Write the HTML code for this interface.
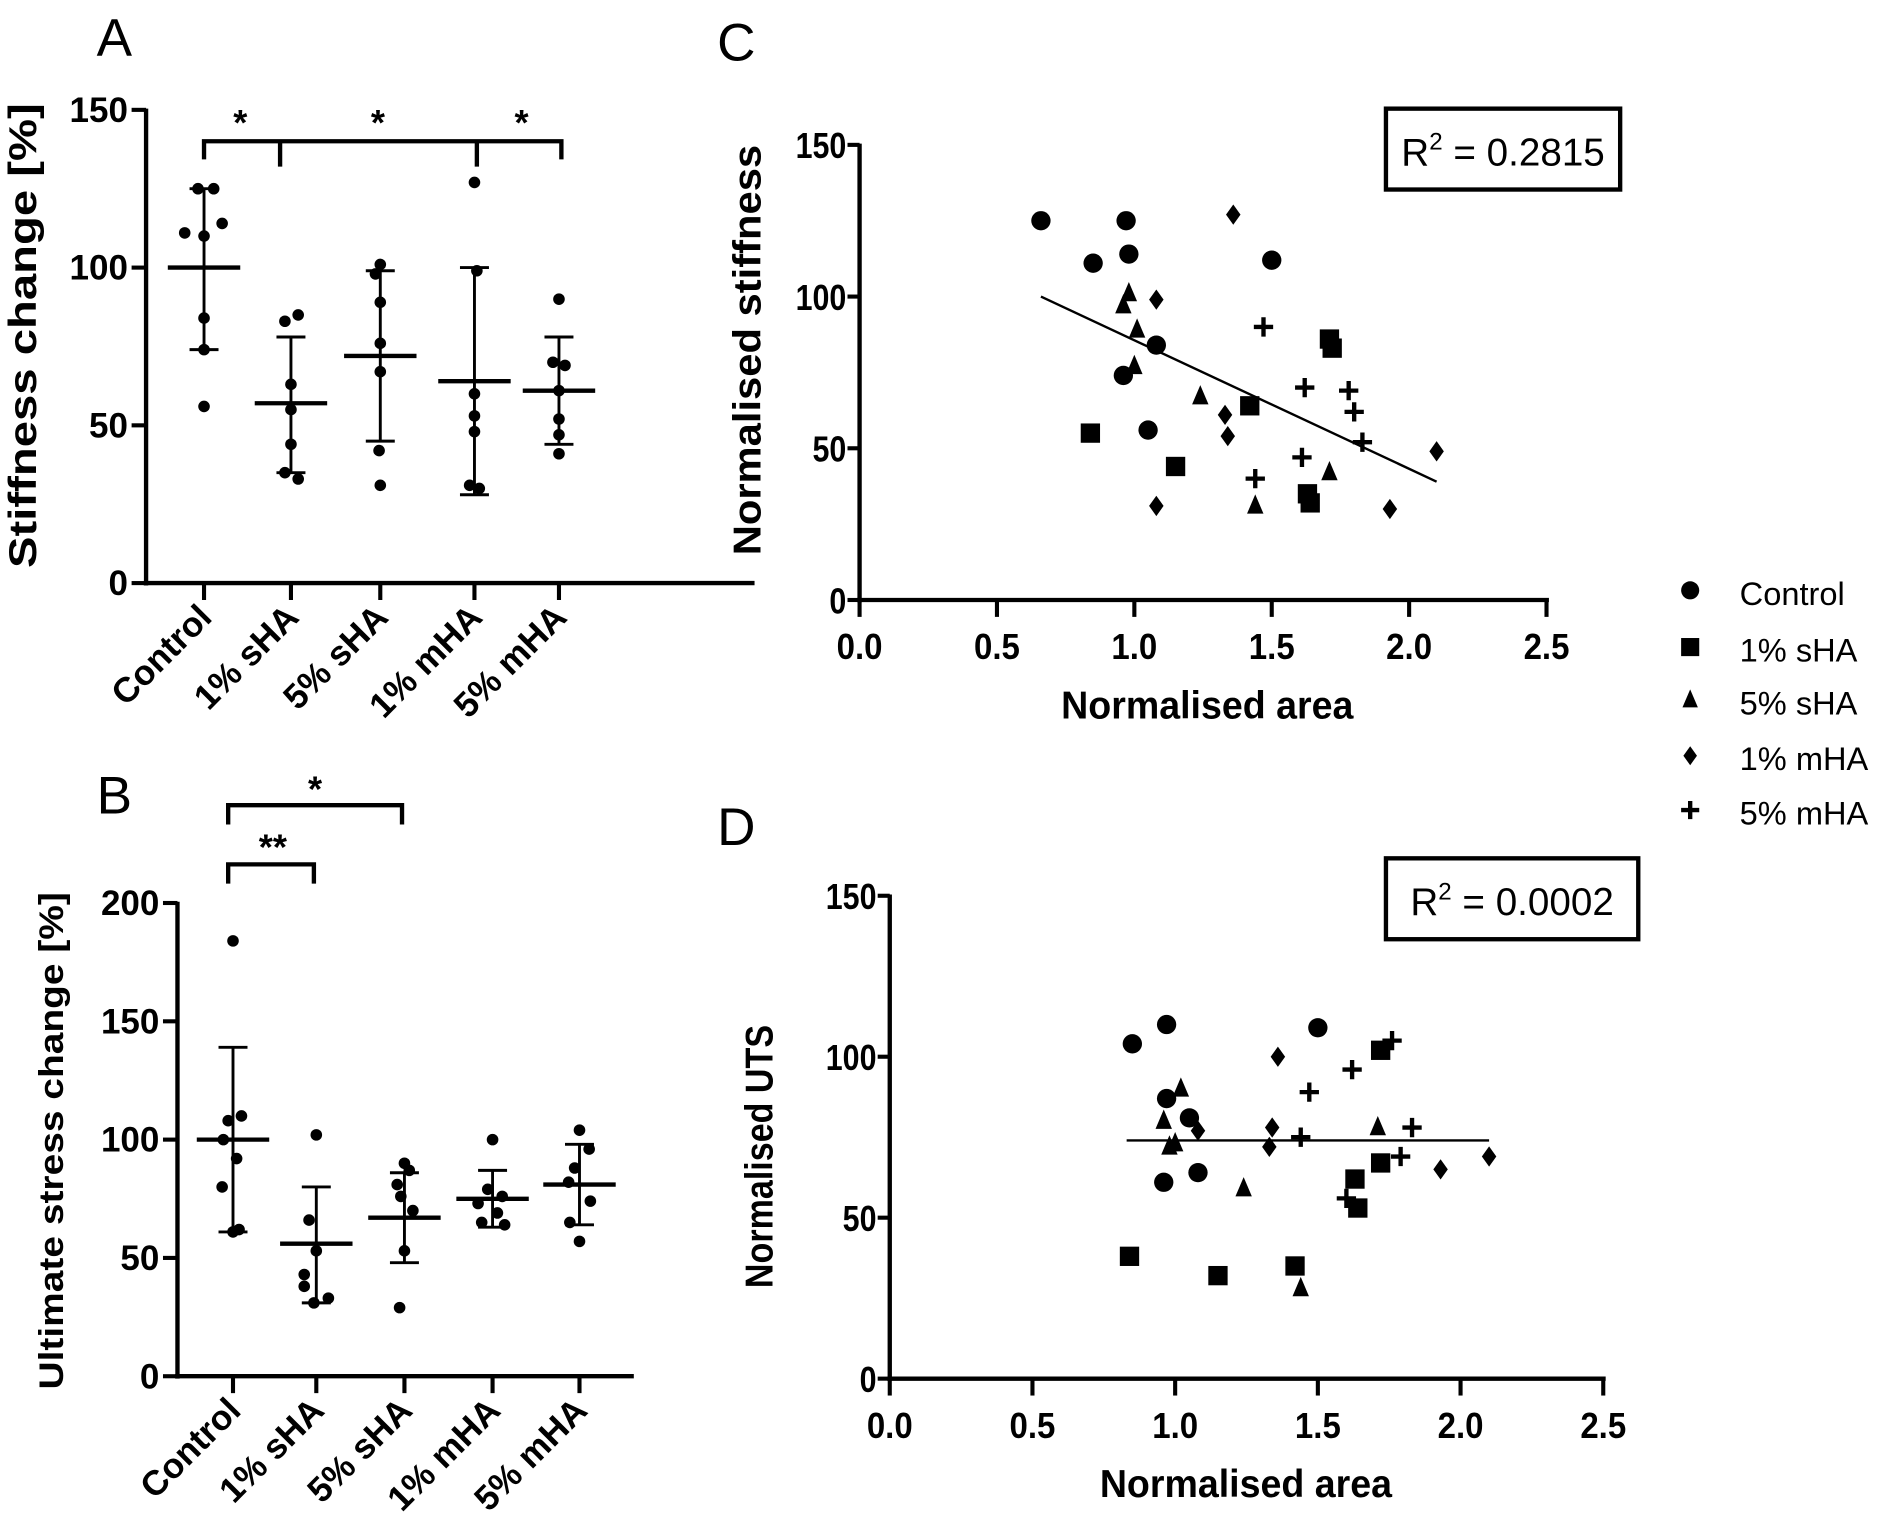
<!DOCTYPE html>
<html><head><meta charset="utf-8"><style>
html,body{margin:0;padding:0;background:#fff}
svg{display:block}
text{font-family:"Liberation Sans",sans-serif;fill:#000}
</style></head><body>
<svg id="fig" width="1893" height="1538" viewBox="0 0 1568 1274" preserveAspectRatio="none" xmlns="http://www.w3.org/2000/svg"></svg>
<script>
// ---------- Data ----------
const groups = ["Control","1% sHA","5% sHA","1% mHA","5% mHA"];
// Panel A: stiffness change
const aMean = [100,57,72,64,61];
const aLo = [74,35,45,28,44];
const aHi = [125,78,99,100,78];
const aPts = [[125,125,111,114,110,84,74,56],[85,83,63,55,44,35,33],[101,98,89,76,67,42,31],[127,99,60,53,48,31,30],[90,70,69,61,52,47,41]];
const aJit = [[-5,8,-16,15,0,0,0,0],[6,-5,0,0,0,-5,6],[0,-4,0,0,0,-1,0],[0,2,0,0,0,-4,4],[0,-5,5,0,0,0,0]];
const aTicks = [0,50,100,150];
// Panel B: ultimate stress change
const bMean = [100,56,67,75,81];
const bLo = [61,31,48,63,64];
const bHi = [139,80,86,87,98];
const bPts = [[184,110,108,100,92,80,62,61],[102,66,53,43,38,33,31],[90,87,81,76,70,53,29],[100,79,76,73,69,65,64],[104,96,88,82,74,65,57]];
const bJit = [[0,7,-4,-8,3,-9,5,0],[0,-6,0,-10,-10,10,-2],[0,4,-6,-3,7,0,-4],[0,-4,8,-12,4,-9,10],[0,8,-4,-9,9,-8,0]];
const bTicks = [0,50,100,150,200];
// Panel C: area vs stiffness
const cX = [[0.66,0.85,0.97,0.98,1.5,1.08,0.96,1.05],[0.84,1.15,1.42,1.71,1.72,1.63,1.64],[0.96,0.98,1.01,1.0,1.24,1.44,1.71],[1.36,1.08,1.33,1.34,1.08,1.93,2.1],[1.47,1.62,1.78,1.8,1.83,1.61,1.44]];
const cY = [[125,111,125,114,112,84,74,56],[55,44,64,86,83,35,32],[97,101,89,77,67,31,42],[127,99,61,54,31,30,49],[90,70,69,62,52,47,40]];
const cFit = [[0.66,100],[2.1,39]];
// Panel D: area vs UTS
const dX = [[0.85,0.97,0.97,1.05,1.5,1.08,0.96],[0.84,1.15,1.42,1.72,1.63,1.64,1.72],[0.96,1.02,0.98,1.0,1.24,1.44,1.71],[1.36,1.34,1.33,1.08,1.93,2.1],[1.76,1.62,1.47,1.44,1.83,1.79,1.6]];
const dY = [[104,110,87,81,109,64,61],[38,32,35,102,62,53,67],[80,90,72,73,59,28,78],[100,78,72,77,65,69],[105,96,89,75,78,69,56]];
const dFit = [[0.83,74],[2.1,74]];
const xTicks = [0,0.5,1,1.5,2,2.5];
const shapes = ["circle","square","triangle","diamond","plus"];

const NS="http://www.w3.org/2000/svg";
const svg=document.getElementById('fig');
function el(tag,attrs,parent,txt){const e=document.createElementNS(NS,tag);for(const k in attrs)e.setAttribute(k,attrs[k]);if(txt!==undefined)e.textContent=txt;(parent||svg).appendChild(e);return e;}
function grp(name){const g=el('g',{});return g;}
function line(g,x1,y1,x2,y2,w){return el('line',{x1,y1,x2,y2,stroke:'#000','stroke-width':w||3.4},g);}
function label(g,x,y,t,opts){return el('text',Object.assign({x,y},opts||{}),g,t);}

function marker(g,shape,x,y,s){
  let m;
  if(shape==='circle') m=el('circle',{cx:x,cy:y,r:s},g);
  else if(shape==='square') m=el('rect',{x:x-s,y:y-s,width:2*s,height:2*s},g);
  else if(shape==='triangle') m=el('polygon',{points:`${x},${y-s*1.2} ${x-s*0.85},${y+s*0.8} ${x+s*0.85},${y+s*0.8}`},g);
  else if(shape==='diamond') m=el('polygon',{points:`${x},${y-s*1.05} ${x+s*0.75},${y} ${x},${y+s*1.05} ${x-s*0.75},${y}`},g);
  else { m=el('path',{d:`M${x-s} ${y}H${x+s}M${x} ${y-s}V${y+s}`,stroke:'#000','stroke-width':3.6,fill:'none'},g); }
  if(shape!=='plus') m.setAttribute('fill','#000');
  return m;
}

// ---------- Dot plot panel ----------
function dotPanel(cfg){
  const g=grp(cfg.name);
  const ys=v=>cfg.y0-v*(cfg.y0-cfg.yTop)/cfg.yMax;
  line(g,cfg.ax,cfg.yTop-1,cfg.ax,cfg.y0+2,3.6);
  line(g,cfg.ax-2,cfg.y0,cfg.xEnd,cfg.y0,3.6);
  cfg.ticks.forEach(t=>{const y=ys(t);line(g,cfg.ax-12,y,cfg.ax,y,3.4);
    const tl=label(g,cfg.ax-15,y+10,String(t),{'text-anchor':'end','font-size':29,'font-weight':'bold'});
    });
  const yt=label(g,0,0,cfg.ytitle,{'text-anchor':'middle','font-size':cfg.yfs,'font-weight':'bold',textLength:cfg.ytl,lengthAdjust:'spacingAndGlyphs',transform:`translate(${cfg.ytx},${cfg.yty}) rotate(-90)`});
  
  groups.forEach((name,i)=>{
    const x=cfg.cx[i];
    line(g,x,cfg.y0,x,cfg.y0+14,3.4);
    const cl=label(g,0,0,name,{'text-anchor':'end','font-size':29,'font-weight':'bold',transform:`translate(${x+8},${cfg.y0+30}) rotate(-45)`});
    
    const eg=el('g',{},g);
    
    line(eg,x,ys(cfg.lo[i]),x,ys(cfg.hi[i]),2.4);
    line(eg,x-12,ys(cfg.lo[i]),x+12,ys(cfg.lo[i]),2.4);
    line(eg,x-12,ys(cfg.hi[i]),x+12,ys(cfg.hi[i]),2.4);
    line(eg,x-30,ys(cfg.mean[i]),x+30,ys(cfg.mean[i]),3.6);
    cfg.pts[i].forEach((v,j)=>{const c=el('circle',{cx:x+cfg.jit[i][j],cy:ys(v),r:4.8,fill:'#000'},eg);
      });
  });
  return g;
}
dotPanel({name:'panel-a',ax:121,y0:483,yTop:91,yMax:150,xEnd:625,cx:[169,241,315,393,463],ticks:aTicks,mean:aMean,lo:aLo,hi:aHi,pts:aPts,jit:aJit,ytitle:'Stiffness change [%]',ytx:30,yty:278,yfs:32,ytl:385});
dotPanel({name:'panel-b',ax:147,y0:1140,yTop:748,yMax:200,xEnd:525,cx:[193,262,335,408,480],ticks:bTicks,mean:bMean,lo:bLo,hi:bHi,pts:bPts,jit:bJit,ytitle:'Ultimate stress change [%]',ytx:52,yty:945,yfs:28,ytl:412});

// significance brackets
(function(){
  const g=grp('significance-a');
  el('path',{d:'M169 132V117H465V132M232 117V138M395 117V138',stroke:'#000','stroke-width':3.6,fill:'none'},g);
  [199,313,432].forEach(x=>label(g,x,112,'*',{'text-anchor':'middle','font-size':30,'font-weight':'bold'}));
  const h=grp('significance-b');
  el('path',{d:'M189 732V716H260V732M189 683V667H333V683',stroke:'#000','stroke-width':3.6,fill:'none'},h);
  label(h,226,712,'**',{'text-anchor':'middle','font-size':30,'font-weight':'bold'});
  label(h,261,664,'*',{'text-anchor':'middle','font-size':30,'font-weight':'bold'});
})();

// ---------- Scatter panel ----------
function scatterPanel(cfg){
  const g=grp(cfg.name);
  const xs=v=>cfg.ax+v*(cfg.x25-cfg.ax)/2.5;
  const ys=v=>cfg.y0-v*(cfg.y0-cfg.yTop)/150;
  line(g,cfg.ax,cfg.yTop-1,cfg.ax,cfg.y0+2,3.6);
  line(g,cfg.ax-2,cfg.y0,cfg.x25+2,cfg.y0,3.6);
  [0,50,100,150].forEach(t=>{const y=ys(t);line(g,cfg.ax-10,y,cfg.ax,y,3.4);
    const tl=label(g,cfg.ax-11,y+11,String(t),{'text-anchor':'end','font-size':30,'font-weight':'bold',textLength:t===0?14:t<100?28:42,lengthAdjust:'spacingAndGlyphs'});
    });
  xTicks.forEach(t=>{const x=xs(t);line(g,x,cfg.y0,x,cfg.y0+14,3.4);
    const tl=label(g,x,cfg.y0+49,t.toFixed(1),{'text-anchor':'middle','font-size':30,'font-weight':'bold',textLength:38,lengthAdjust:'spacingAndGlyphs'});
    });
  const xt=label(g,cfg.xtx,cfg.y0+98,'Normalised area',{'text-anchor':'middle','font-size':32,'font-weight':'bold',textLength:242,lengthAdjust:'spacingAndGlyphs'});
  
  const yt=label(g,0,0,cfg.ytitle,{'text-anchor':'middle','font-size':32,'font-weight':'bold',textLength:cfg.ytl,lengthAdjust:'spacingAndGlyphs',transform:`translate(${cfg.ytx},${cfg.yty}) rotate(-90)`});
  
  cfg.X.forEach((arr,i)=>arr.forEach((xv,j)=>{const m=marker(g,shapes[i],xs(xv),ys(cfg.Y[i][j]),8);
    }));
  const f=line(g,xs(cfg.fit[0][0]),ys(cfg.fit[0][1]),xs(cfg.fit[1][0]),ys(cfg.fit[1][1]),2);
  
  const b=el('rect',{x:cfg.box[0],y:cfg.box[1],width:cfg.box[2],height:cfg.box[3],fill:'none',stroke:'#000','stroke-width':3.6},g);
  
  const r=el('text',{x:cfg.box[0]+cfg.box[2]/2,y:cfg.box[1]+47,'text-anchor':'middle','font-size':32},g);
  
  el('tspan',{},r,'R');el('tspan',{dy:-13,'font-size':20},r,'2');el('tspan',{dy:13},r,' = '+cfg.r2);
}
scatterPanel({name:'panel-c',ax:712,x25:1281,y0:497,yTop:120,X:cX,Y:cY,fit:cFit,ytitle:'Normalised stiffness',ytl:340,ytx:630,yty:290,xtx:1000,box:[1148,90,194,67],r2:'0.2815'});
scatterPanel({name:'panel-d',ax:737,x25:1328,y0:1142,yTop:742,X:dX,Y:dY,fit:dFit,ytitle:'Normalised UTS',ytl:218,ytx:640,yty:958,xtx:1032,box:[1148,711,209,67],r2:'0.0002'});

// legend
(function(){
  const g=grp('legend');
  const ly=[491,538,582,628,673];
  groups.forEach((n,i)=>{const e=el('g',{},g);
    
    marker(e,shapes[i],1400,ly[i]-2,7.5);
    label(e,1441,ly[i]+10,n,{'font-size':27});});
})();

// panel letters
[['A',80,46],['B',80,674],['C',594,50],['D',594,700]].forEach(p=>{
  const t=label(svg,p[1],p[2],p[0],{'font-size':44});
  
  
});
</script>
</body></html>
